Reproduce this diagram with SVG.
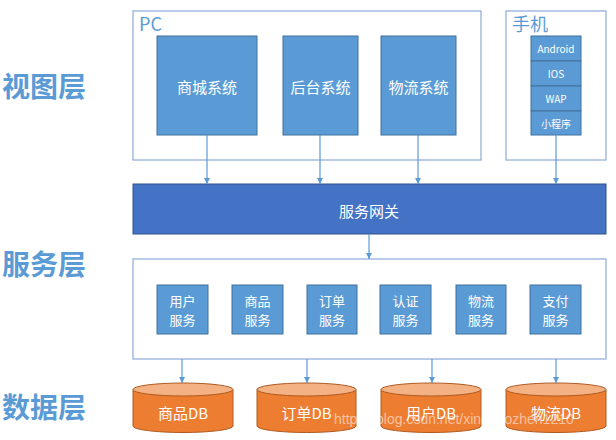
<svg xmlns="http://www.w3.org/2000/svg" width="616" height="440" viewBox="0 0 616 440">
<defs>
<style>
.cn{font-family:"Noto Sans CJK SC","Noto Sans",sans-serif}
.layer{font-size:28px;fill:#5b9bd5;font-weight:bold}
.grp{fill:#ffffff;stroke:#8eaadb;stroke-width:1.2}
.sys{fill:#5b9bd5;stroke:#41719c;stroke-width:1}
.wt{fill:#ffffff;font-size:15px;text-anchor:middle;dominant-baseline:central}
.sv{fill:#ffffff;font-size:13px;text-anchor:middle}
.mob{fill:#ffffff;font-size:10px;text-anchor:middle;dominant-baseline:central}
.gw{fill:#4472c4;stroke:#2f528f;stroke-width:1}
.dbb{fill:#ed7d31;stroke:#ae5a21;stroke-width:1}
.dbt{fill:#f4b183;stroke:#ae5a21;stroke-width:1}
.ar{stroke:#5b9bd5;stroke-width:1.2;fill:none;marker-end:url(#ah)}
</style>
<marker id="ah" viewBox="0 0 10 10" refX="10" refY="5" markerWidth="6" markerHeight="6" markerUnits="userSpaceOnUse" orient="auto">
<path d="M0,0 L10,5 L0,10 z" fill="#5b9bd5"/>
</marker>
</defs>
<rect width="616" height="440" fill="#ffffff"/>

<g id="labels" class="cn layer">
<text x="2" y="97">视图层</text>
<text x="2" y="275">服务层</text>
<text x="2" y="418">数据层</text>
</g>

<g id="pc">
<rect class="grp" x="133" y="11" width="348" height="149"/>
<text class="cn" x="139" y="31" font-size="18" fill="#5b9bd5">PC</text>
</g>
<g id="shangcheng"><rect class="sys" x="157" y="36" width="100" height="99"/><text class="cn wt" x="207" y="86">商城系统</text></g>
<g id="houtai"><rect class="sys" x="283" y="36" width="75" height="99"/><text class="cn wt" x="320.5" y="86">后台系统</text></g>
<g id="wuliu"><rect class="sys" x="381" y="36" width="75" height="99"/><text class="cn wt" x="418.5" y="86">物流系统</text></g>

<g id="mobile">
<rect class="grp" x="506" y="11" width="100" height="149"/>
<text class="cn" x="512" y="31" font-size="18" fill="#5b9bd5">手机</text>
</g>
<g id="android"><rect class="sys" x="531" y="36" width="50" height="25"/><text class="cn mob" x="556" y="48.5">Android</text></g>
<g id="ios"><rect class="sys" x="531" y="61" width="50" height="25"/><text class="cn mob" x="556" y="73.5">IOS</text></g>
<g id="wap"><rect class="sys" x="531" y="86" width="50" height="25"/><text class="cn mob" x="556" y="98.5">WAP</text></g>
<g id="xcx"><rect class="sys" x="531" y="111" width="50" height="24"/><text class="cn mob" x="556" y="123">小程序</text></g>

<g id="gateway"><rect class="gw" x="133" y="184" width="473" height="50"/><text class="cn wt" x="369" y="210">服务网关</text></g>

<g id="services"><rect class="grp" x="133" y="259" width="473" height="100"/></g>
<g id="s-user"><rect class="sys" x="157" y="285" width="51" height="49"/><text class="cn sv" x="182.5" y="306">用户</text><text class="cn sv" x="182.5" y="325">服务</text></g>
<g id="s-goods"><rect class="sys" x="232" y="285" width="51" height="49"/><text class="cn sv" x="257.5" y="306">商品</text><text class="cn sv" x="257.5" y="325">服务</text></g>
<g id="s-order"><rect class="sys" x="307" y="285" width="50" height="49"/><text class="cn sv" x="332" y="306">订单</text><text class="cn sv" x="332" y="325">服务</text></g>
<g id="s-auth"><rect class="sys" x="380" y="285" width="51" height="49"/><text class="cn sv" x="405.5" y="306">认证</text><text class="cn sv" x="405.5" y="325">服务</text></g>
<g id="s-logi"><rect class="sys" x="456" y="285" width="50" height="49"/><text class="cn sv" x="481" y="306">物流</text><text class="cn sv" x="481" y="325">服务</text></g>
<g id="s-pay"><rect class="sys" x="530" y="285" width="51" height="49"/><text class="cn sv" x="555.5" y="306">支付</text><text class="cn sv" x="555.5" y="325">服务</text></g>

<g id="db-goods">
<path class="dbb" d="M133,389.5 L133,426 A50,6.5 0 0 0 233,426 L233,389.5 Z"/>
<ellipse class="dbt" cx="183" cy="389.5" rx="50" ry="6.5"/>
<text class="cn wt" x="183" y="412">商品DB</text>
</g>
<g id="db-order">
<path class="dbb" d="M257,389.5 L257,426 A49.5,6.5 0 0 0 356,426 L356,389.5 Z"/>
<ellipse class="dbt" cx="306.5" cy="389.5" rx="49.5" ry="6.5"/>
<text class="cn wt" x="306.5" y="412">订单DB</text>
</g>
<g id="db-user">
<path class="dbb" d="M381,389.5 L381,426 A50,6.5 0 0 0 481,426 L481,389.5 Z"/>
<ellipse class="dbt" cx="431" cy="389.5" rx="50" ry="6.5"/>
<text class="cn wt" x="431" y="412">用户DB</text>
</g>
<g id="db-logi">
<path class="dbb" d="M506,389.5 L506,426 A50,6.5 0 0 0 606,426 L606,389.5 Z"/>
<ellipse class="dbt" cx="556" cy="389.5" rx="50" ry="6.5"/>
<text class="cn wt" x="556" y="412">物流DB</text>
</g>

<g id="connectors">
<line class="ar" x1="207" y1="135" x2="207" y2="184"/>
<line class="ar" x1="320" y1="135" x2="320" y2="184"/>
<line class="ar" x1="418" y1="135" x2="418" y2="184"/>
<line class="ar" x1="556" y1="135" x2="556" y2="184"/>
<line class="ar" x1="369" y1="234" x2="369" y2="259"/>
<line class="ar" x1="182" y1="359" x2="182" y2="383"/>
<line class="ar" x1="307" y1="359" x2="307" y2="383"/>
<line class="ar" x1="432" y1="359" x2="432" y2="383"/>
<line class="ar" x1="556" y1="359" x2="556" y2="383"/>
</g>

<text x="334" y="424" font-size="14" fill="#ffffff" fill-opacity="0.55" font-family="'Liberation Sans',sans-serif">https://blog.csdn.net/xingbaozhen1210</text>
</svg>
